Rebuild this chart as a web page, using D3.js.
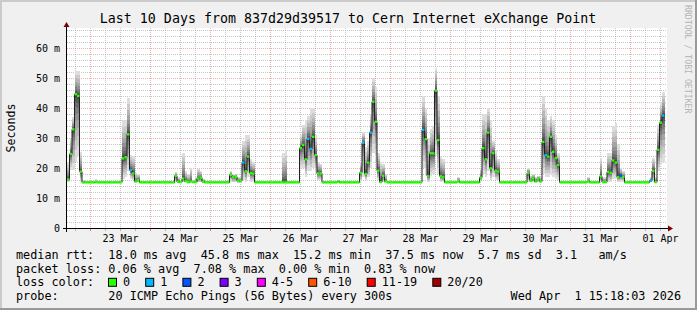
<!DOCTYPE html>
<html>
<head>
<meta charset="utf-8">
<script src="https://cdn.jsdelivr.net/npm/d3@7"></script>
<style>
  body { margin: 0; background: #fff; }
  svg text { font-family: "DejaVu Sans Mono", monospace; }
</style>
</head>
<body>
<div id="chart"></div>
<script>
// ============ DATA ============
// hourly median rtt (ms), starting Mar 22 14:48 UTC
const medianMs = [
  16.2, 24.7, 32.9, 44.6, 44.0, 18.8, 15.2, 15.2, 15.2, 15.2,
  15.2, 15.3, 15.2, 15.2, 15.2, 15.2, 15.2, 15.2, 15.2, 15.2,
  15.2, 15.2, 23.2, 23.6, 31.2, 19.3, 18.2, 15.5, 16.0, 15.2,
  15.2, 15.2, 15.2, 15.2, 15.2, 15.2, 15.2, 15.2, 15.2, 15.2,
  15.2, 15.2, 15.2, 17.4, 15.4, 15.3, 16.5, 15.6, 15.3, 15.5,
  15.3, 15.3, 16.5, 16.8, 15.4, 15.2, 15.2, 15.2, 15.2, 15.2,
  15.2, 15.2, 15.2, 15.2, 15.2, 17.7, 16.9, 17.1, 15.7, 15.7,
  21.8, 18.9, 23.8, 18.3, 18.1, 15.2, 15.2, 15.2, 15.2, 15.2,
  15.2, 15.2, 15.2, 15.2, 15.2, 15.2, 15.2, 15.2, 15.2, 15.2,
  15.2, 15.2, 15.2, 26.6, 27.7, 22.9, 29.7, 26.4, 30.4, 24.3,
  18.2, 18.2, 15.2, 15.2, 15.2, 15.2, 15.2, 15.2, 15.5, 15.2,
  15.2, 15.2, 15.2, 15.2, 15.2, 15.2, 15.2, 18.4, 28.4, 18.0,
  21.8, 31.8, 42.1, 35.4, 19.1, 15.3, 17.4, 15.5, 15.2, 15.2,
  15.2, 15.2, 15.2, 15.2, 15.2, 15.2, 15.2, 15.2, 15.2, 15.2,
  15.2, 15.2, 32.7, 29.6, 17.3, 24.9, 24.9, 45.8, 29.3, 17.3,
  16.9, 15.2, 15.2, 15.2, 15.2, 15.2, 15.6, 15.2, 15.2, 15.2,
  15.2, 15.2, 15.2, 15.2, 15.2, 16.8, 26.6, 22.9, 31.8, 19.9,
  24.9, 19.1, 18.8, 15.2, 15.2, 15.2, 15.2, 15.2, 15.2, 15.2,
  15.2, 15.2, 15.2, 15.2, 18.3, 15.8, 16.5, 15.5, 16.2, 15.5,
  28.7, 24.3, 23.8, 30.4, 25.4, 23.3, 21.0, 15.2, 15.2, 15.2,
  15.2, 15.2, 15.2, 15.2, 15.2, 15.2, 15.2, 15.2, 15.6, 15.2,
  15.2, 15.2, 15.2, 17.2, 15.3, 15.3, 18.7, 18.4, 22.5, 21.8,
  17.0, 17.5, 17.0, 15.2, 15.2, 15.2, 15.2, 15.2, 15.2, 15.2,
  15.2, 15.2, 15.2, 15.8, 19.0, 15.3, 26.1, 35.1, 37.5
];

// lowest ping of each hour (bottom of the smoke)
const smokeLo = [
  15.5, 19.5, 19.5, 22, 24, 15.5, 15.0, 15.0, 15.0, 15.0,
  15.0, 15.0, 15.0, 15.0, 15.0, 15.0, 15.0, 15.0, 15.0, 15.0,
  15.0, 15.0, 16.5, 17, 19, 16.5, 16, 15.2, 15.2, 15.0,
  15.0, 15.0, 15.0, 15.0, 15.0, 15.0, 15.0, 15.0, 15.0, 15.0,
  15.0, 15.0, 15.0, 15.2, 15.0, 15.0, 15.2, 15.2, 15.0, 15.2,
  15.0, 15.0, 15.2, 15.2, 15.0, 15.0, 15.0, 15.0, 15.0, 15.0,
  15.0, 15.0, 15.0, 15.0, 15.0, 15.5, 15.2, 15.2, 15.0, 15.0,
  16, 15.5, 17, 15.5, 15.5, 15.0, 15.0, 15.0, 15.0, 15.0,
  15.0, 15.0, 15.0, 15.0, 15.0, 15.0, 15.0, 15.0, 15.0, 15.0,
  15.0, 15.0, 15.0, 20, 20, 17, 19, 19, 20, 18,
  16, 16, 15.0, 15.0, 15.0, 15.0, 15.0, 15.0, 15.0, 15.0,
  15.0, 15.0, 15.0, 15.0, 15.0, 15.0, 15.0, 15.5, 17, 16,
  17, 20, 25, 22, 16, 15, 15.5, 15.2, 15.0, 15.0,
  15.0, 15.0, 15.0, 15.0, 15.0, 15.0, 15.0, 15.0, 15.0, 15.0,
  15.0, 15.0, 20, 18, 15.5, 17.5, 18, 24, 18, 15.5,
  15.5, 15.0, 15.0, 15.0, 15.0, 15.0, 15.0, 15.0, 15.0, 15.0,
  15.0, 15.0, 15.0, 15.0, 15.0, 15.5, 18, 17, 19, 16,
  17, 16, 16, 15.0, 15.0, 15.0, 15.0, 15.0, 15.0, 15.0,
  15.0, 15.0, 15.0, 15.0, 15.5, 15.2, 15.2, 15.2, 15.2, 15.2,
  18, 17, 17, 18, 17, 16.5, 16, 15.0, 15.0, 15.0,
  15.0, 15.0, 15.0, 15.0, 15.0, 15.0, 15.0, 15.0, 15.0, 15.0,
  15.0, 15.0, 15.0, 15.2, 15.0, 15.0, 15.5, 15.5, 16.5, 16.5,
  15.5, 15.5, 15.5, 15.0, 15.0, 15.0, 15.0, 15.0, 15.0, 15.0,
  15.0, 15.0, 15.0, 15.2, 15.5, 15.0, 19, 21, 22
];

// highest ping of each hour (top of the smoke)
const smokeHi = [
  22, 30, 37, 52.5, 52.5, 25.5, 16.0, 15.6, 15.6, 15.6,
  15.6, 16.2, 15.6, 15.6, 15.6, 15.6, 15.6, 15.6, 15.6, 15.6,
  15.6, 15.6, 36, 36, 43.5, 24.5, 24, 18.5, 18, 15.8,
  15.6, 15.6, 15.6, 15.6, 15.6, 15.6, 15.6, 15.6, 15.6, 15.6,
  15.6, 15.6, 15.6, 18.7, 17, 16, 25, 19, 18, 20,
  16, 17, 19.8, 19, 16.5, 15.6, 15.6, 15.6, 15.6, 15.6,
  15.6, 15.6, 15.6, 15.6, 16, 19, 18, 18, 17, 17,
  29, 31, 31, 23, 22, 15.8, 15.6, 15.6, 15.6, 15.6,
  15.6, 15.6, 15.6, 15.6, 15.6, 15.6, 25, 26, 15.6, 15.6,
  15.6, 15.6, 15.6, 31, 34.5, 36, 37.5, 40, 40, 31,
  22, 21.5, 15.8, 15.6, 15.6, 15.6, 15.6, 15.6, 16, 15.6,
  15.6, 15.6, 15.6, 15.6, 15.6, 15.6, 15.6, 22, 32, 27,
  29, 38, 50, 47, 25, 22, 21.5, 18, 15.6, 15.6,
  15.6, 15.6, 15.6, 15.6, 15.6, 15.6, 15.6, 15.6, 15.6, 15.6,
  15.6, 15.6, 44, 40, 30, 33, 34, 53.5, 44, 24,
  23, 15.6, 15.6, 15.6, 15.6, 15.6, 17, 15.6, 15.6, 15.6,
  15.6, 15.6, 15.6, 15.6, 15.6, 20, 38, 38, 40, 36,
  29, 26, 23, 15.6, 15.6, 15.6, 15.6, 15.6, 15.6, 15.6,
  15.6, 15.6, 15.6, 15.6, 20, 17.5, 18, 17, 17.5, 17,
  44, 40, 36, 37.5, 36, 31, 25, 15.8, 15.6, 15.6,
  15.6, 15.6, 15.6, 15.6, 15.6, 15.6, 15.6, 15.6, 17, 15.6,
  15.6, 15.6, 15.6, 23.5, 17, 17, 25, 25, 34, 35,
  28, 20, 19, 15.6, 15.6, 15.6, 15.6, 15.6, 15.6, 15.6,
  15.6, 15.6, 15.6, 17, 23.5, 17, 34.5, 42, 45.5
];

// hours with lost pings: [hour index, pings lost]
const lossEvents = [[25, 1], [70, 1], [96, 1], [97, 1], [118, 1], [121, 1],
                    [142, 1], [191, 1], [221, 2], [233, 1], [238, 1]];

// loss colour legend
const lossLabels = ["0", "1", "2", "3", "4-5", "6-10", "11-19", "20/20"];
const lossMax    = [0, 1, 2, 3, 5, 10, 19, 20];
const lossColors = ["#26ff00", "#00b8ff", "#0059ff", "#7e00ff", "#ff00ff", "#ff5500", "#ff0000", "#a10000"];

const yTicks = [0, 10, 20, 30, 40, 50, 60];

const titleText = "Last 10 Days from 837d29d39517 to Cern Internet eXchange Point";
const legendLines = [
  "median rtt:  18.0 ms avg  45.8 ms max  15.2 ms min  37.5 ms now  5.7 ms sd  3.1   am/s",
  "packet loss: 0.06 % avg  7.08 % max  0.00 % min  0.83 % now",
  "loss color:",
  "probe:       20 ICMP Echo Pings (56 Bytes) every 300s"
];
const stampText = "Wed Apr  1 15:18:03 2026";

// ============ LAYOUT ============
const W = 697, H = 310;
const plot = {left: 67, right: 667, top: 28, bottom: 228};
const startTime = new Date(Date.UTC(2026, 2, 22, 14, 48));
const endTime = new Date(Date.UTC(2026, 3, 1, 14, 48));

const svg = d3.select("#chart").append("svg")
    .attr("width", W)
    .attr("height", H);

// background and rrdtool style shading
svg.append("rect").attr("width", W).attr("height", H).attr("fill", "#f0f0f0");
svg.append("rect").attr("x", 0).attr("y", 0).attr("width", W).attr("height", 2).attr("fill", "#cbcbcb");
svg.append("rect").attr("x", 0).attr("y", 0).attr("width", 2).attr("height", H).attr("fill", "#cbcbcb");
svg.append("rect").attr("x", W - 2).attr("y", 0).attr("width", 2).attr("height", H).attr("fill", "#999999");
svg.append("rect").attr("x", 0).attr("y", H - 2).attr("width", W).attr("height", 2).attr("fill", "#999999");

// canvas
svg.append("rect")
    .attr("x", plot.left).attr("y", plot.top)
    .attr("width", plot.right - plot.left).attr("height", plot.bottom - plot.top)
    .attr("fill", "#ffffff");

// scales
const x = d3.scaleUtc().domain([startTime, endTime]).range([plot.left, plot.right]);
const y = d3.scaleLinear().domain([0, 200 / 3]).range([plot.bottom, plot.top]);

const gridMinor = "rgba(143,143,143,0.5)";
const gridMajor = "rgba(222,80,80,0.45)";

// horizontal grid
const grid = svg.append("g");
d3.range(2, 67, 2).forEach(v => {
    const yy = Math.round(y(v)) + 0.5;
    grid.append("line")
        .attr("x1", plot.left).attr("x2", plot.right)
        .attr("y1", yy).attr("y2", yy)
        .attr("stroke", v % 10 === 0 ? gridMajor : gridMinor)
        .attr("stroke-dasharray", "1,1");
});

// vertical grid, every 6 hours, red at midnight
const sixHours = d3.utcHour.every(6).range(startTime, endTime);
sixHours.forEach(t => {
    const xx = Math.round(x(t)) + 0.5;
    const major = t.getUTCHours() === 0;
    grid.append("line")
        .attr("x1", xx).attr("x2", xx)
        .attr("y1", plot.top).attr("y2", plot.bottom)
        .attr("stroke", major ? gridMajor : gridMinor)
        .attr("stroke-dasharray", "1,1");
    // little tick under the axis
    grid.append("line")
        .attr("x1", xx).attr("x2", xx)
        .attr("y1", plot.bottom + 1).attr("y2", plot.bottom + 3)
        .attr("stroke", major ? "rgba(222,80,80,0.7)" : "rgba(143,143,143,0.6)");
});

// ============ SMOKE ============
// ten grey levels per side; the outer (light) bands are the widest,
// like sorted pings that spread out away from the median
const stepX = i => x(d3.utcHour.offset(startTime, i));
const smoke = svg.append("g").attr("shape-rendering", "crispEdges");
medianMs.forEach((m, i) => {
    const x0 = stepX(i), x1 = stepX(i + 1);
    const hi = smokeHi[i], lo = smokeLo[i];
    for (let k = 0; k < 10; k++) {
        const g = Math.round(50 + 19 * (9 - k));
        const fill = d3.rgb(g, g, g).toString();
        const fa = Math.pow((10 - k) / 10, 1.8);
        const fb = Math.pow((9 - k) / 10, 1.8);
        if (hi > m) {
            const a = m + (hi - m) * fa;
            const b = m + (hi - m) * fb;
            smoke.append("rect")
                .attr("x", x0).attr("width", x1 - x0)
                .attr("y", y(a)).attr("height", y(b) - y(a))
                .attr("fill", fill);
        }
        if (lo < m) {
            const a = m - (m - lo) * fa;
            const b = m - (m - lo) * fb;
            smoke.append("rect")
                .attr("x", x0).attr("width", x1 - x0)
                .attr("y", y(b)).attr("height", y(a) - y(b))
                .attr("fill", fill);
        }
    }
});

// ============ MEDIAN ============
const medianPts = medianMs.map((m, i) => [stepX(i), y(m)]);
medianPts.push([stepX(medianMs.length), y(medianMs[medianMs.length - 1])]);

svg.append("path")
    .datum(medianPts)
    .attr("fill", "none")
    .attr("stroke", "#202020")
    .attr("stroke-width", 1)
    .attr("d", d3.line().curve(d3.curveStepAfter));

const lossAt = new Map(lossEvents);
const lossColor = n => lossColors[lossMax.findIndex(mx => n <= mx)];

svg.append("g").selectAll("rect")
    .data(medianMs)
    .enter()
    .append("rect")
    .attr("x", (d, i) => stepX(i))
    .attr("width", (d, i) => stepX(i + 1) - stepX(i))
    .attr("y", d => y(d) - 1.2)
    .attr("height", 2.4)
    .attr("fill", (d, i) => lossColor(lossAt.get(i) || 0));

// ============ AXES ============
const noons = d3.utcDay.range(d3.utcDay.ceil(startTime), endTime).map(d => d3.utcHour.offset(d, 12));

const xAxis = svg.append("g")
    .attr("transform", `translate(0,${plot.bottom})`)
    .call(d3.axisBottom(x).tickValues(noons).tickFormat(d3.utcFormat("%d %b")).tickSize(0));
xAxis.select(".domain").remove();
xAxis.selectAll("text")
    .attr("y", 14).attr("dy", null)
    .attr("font-family", "DejaVu Sans Mono")
    .attr("font-size", "10px")
    .attr("fill", "#000");

const yAxis = svg.append("g")
    .attr("transform", `translate(${plot.left},0)`)
    .call(d3.axisLeft(y).tickValues(yTicks).tickFormat(v => v === 0 ? "0" : v + " m").tickSize(0).tickPadding(7));
yAxis.select(".domain").remove();
yAxis.selectAll("text")
    .attr("font-family", "DejaVu Sans Mono")
    .attr("font-size", "10px")
    .attr("fill", "#000");

// axis lines with arrows
svg.append("line")
    .attr("x1", plot.left - 4).attr("x2", plot.right + 2)
    .attr("y1", plot.bottom + 0.5).attr("y2", plot.bottom + 0.5)
    .attr("stroke", "#000");
svg.append("path")
    .attr("d", `M${plot.right + 1},${plot.bottom - 2.5}L${plot.right + 6},${plot.bottom + 0.5}L${plot.right + 1},${plot.bottom + 3.5}Z`)
    .attr("fill", "#7f0000");
svg.append("line")
    .attr("x1", plot.left - 0.5).attr("x2", plot.left - 0.5)
    .attr("y1", plot.bottom + 4).attr("y2", plot.top - 1)
    .attr("stroke", "#000");
svg.append("path")
    .attr("d", `M${plot.left - 3.5},${plot.top - 1}L${plot.left - 0.5},${plot.top - 6}L${plot.left + 2.5},${plot.top - 1}Z`)
    .attr("fill", "#7f0000");

// ============ TEXTS ============
svg.append("text")
    .attr("x", 348).attr("y", 23)
    .attr("text-anchor", "middle")
    .attr("font-size", "13.3px")
    .text(titleText);

svg.append("text")
    .attr("transform", "translate(15,128) rotate(-90)")
    .attr("text-anchor", "middle")
    .attr("font-size", "11.6px")
    .text("Seconds");

svg.append("text")
    .attr("transform", "translate(685,5) rotate(90)")
    .attr("font-size", "8.2px")
    .attr("fill", "#b4b4b4")
    .text("RRDTOOL / TOBI OETIKER");

const legendY = [258.5, 272.5, 286.3, 300];
legendLines.forEach((line, i) => {
    svg.append("text")
        .attr("x", 16).attr("y", legendY[i])
        .attr("font-size", "11.8px")
        .style("white-space", "pre")
        .text(line);
});

// loss colour swatches
let sx = 108;
lossLabels.forEach((label, i) => {
    svg.append("rect")
        .attr("x", sx + 0.5).attr("y", legendY[2] - 8)
        .attr("width", 8).attr("height", 8)
        .attr("fill", lossColors[i])
        .attr("stroke", "#000")
        .attr("stroke-width", 1);
    svg.append("text")
        .attr("x", sx + 15).attr("y", legendY[2])
        .attr("font-size", "11.8px")
        .text(label);
    sx += 37.2 + 7.1 * (label.length - 1);
});

svg.append("text")
    .attr("x", 681).attr("y", legendY[3])
    .attr("text-anchor", "end")
    .attr("font-size", "11.8px")
    .style("white-space", "pre")
    .text(stampText);
</script>
</body>
</html>
